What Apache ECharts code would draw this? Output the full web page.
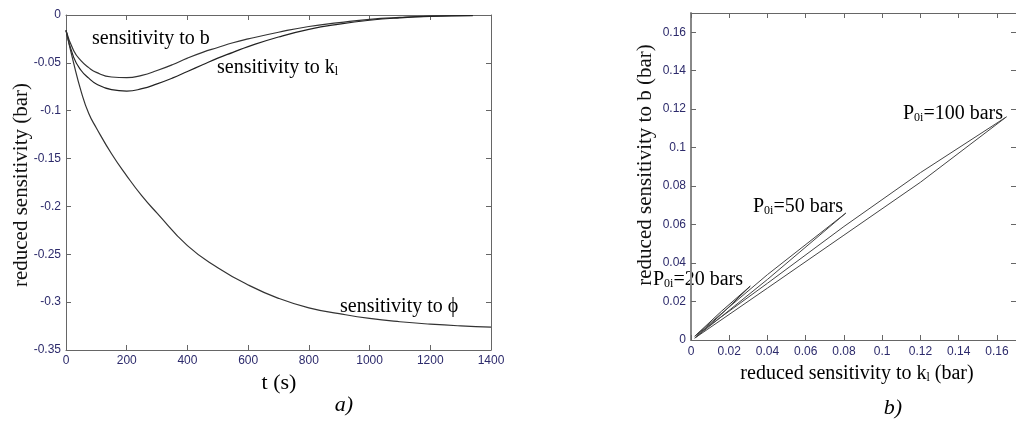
<!DOCTYPE html>
<html>
<head>
<meta charset="utf-8">
<script src="https://cdn.jsdelivr.net/npm/echarts@6/dist/echarts.min.js"></script>
<style>
  html, body { margin: 0; padding: 0; background: #fff; }
  #chart { width: 1016px; height: 424px; }
</style>
</head>
<body>
<div id="chart"></div>
<script>
// a) sensitivities vs time
const timeBK = [0, 25, 50, 75, 100, 150, 200, 250, 300, 350, 400, 450, 500, 550, 600, 700, 800, 900, 1000, 1100, 1200, 1340]
const sensB = [-0.016, -0.037, -0.048, -0.055, -0.060, -0.0648, -0.0655, -0.063, -0.058, -0.052, -0.045, -0.039, -0.034, -0.029, -0.025, -0.018, -0.012, -0.008, -0.0045, -0.0025, -0.0012, -0.0005]
const sensK = [-0.016, -0.044, -0.058, -0.066, -0.072, -0.078, -0.0795, -0.077, -0.072, -0.066, -0.059, -0.052, -0.045, -0.039, -0.033, -0.023, -0.015, -0.0095, -0.0055, -0.003, -0.0015, -0.0006]
const timePhi = [0, 25, 50, 75, 100, 150, 200, 250, 300, 400, 500, 600, 700, 800, 900, 1000, 1100, 1200, 1300, 1400]
const sensPhi = [-0.016, -0.050, -0.080, -0.103, -0.118, -0.145, -0.168, -0.189, -0.207, -0.241, -0.264, -0.282, -0.296, -0.306, -0.312, -0.317, -0.3205, -0.323, -0.3248, -0.326]

// b) sensitivity to b vs sensitivity to kl, one loop per initial pressure
const p20Kl = [0.002, 0.016, 0.031, 0.016, 0.002]
const p20B = [0.002, 0.0150, 0.028, 0.0135, 0.001]
const p50Kl = [0.002, 0.040, 0.081, 0.040, 0.002]
const p50B = [0.002, 0.034, 0.066, 0.0315, 0.001]
const p100Kl = [0.002, 0.04, 0.08, 0.12, 0.165, 0.12, 0.08, 0.04, 0.002]
const p100B = [0.002, 0.0295, 0.059, 0.087, 0.116, 0.082, 0.0545, 0.027, 0.001]

const pair = (xs, ys) => xs.map((x, i) => [x, ys[i]])

const SERIF = '"Liberation Serif", "Times New Roman", serif'
const SANS = '"Liberation Sans", Arial, sans-serif'
const tickColor = '#2c2a6b'
const boxColor = '#666'

const labelStyle = {
  color: tickColor,
  fontFamily: SANS,
  fontSize: 12,
  margin: 5,
  formatter: (v) => String(+v.toFixed(4))
}

const richText = {
  m: { fontFamily: SERIF, fontSize: 20, lineHeight: 24, verticalAlign: 'bottom', color: '#111' },
  s: { fontFamily: SERIF, fontSize: 12, lineHeight: 10, verticalAlign: 'bottom', color: '#111' }
}

const baseAxis = (extra) => ({
  type: 'value',
  axisLine: { show: true, onZero: false, lineStyle: { color: boxColor, width: 1 } },
  axisTick: { show: true, inside: true, length: 5, lineStyle: { color: boxColor } },
  splitLine: { show: false },
  ...extra
})

const mainAxis = (extra) => baseAxis({ axisLabel: labelStyle, ...extra })
const mirrorAxis = (extra) => baseAxis({ axisLabel: { show: false }, ...extra })

const text = (x, y, str, extra) => ({
  type: 'text',
  x: x,
  y: y,
  style: {
    text: str,
    rich: richText,
    align: 'left',
    verticalAlign: 'middle',
    ...extra
  }
})

const curve = (name, xs, ys, color) => ({
  name: name,
  type: 'line',
  xAxisIndex: 0,
  yAxisIndex: 0,
  data: pair(xs, ys),
  smooth: 0.5,
  symbol: 'none',
  lineStyle: { color: color, width: 1.2 }
})

const loop = (name, xs, ys, color) => ({
  name: name,
  type: 'line',
  xAxisIndex: 2,
  yAxisIndex: 2,
  data: pair(xs, ys),
  symbol: 'none',
  lineStyle: { color: color, width: 1 }
})

const chart = echarts.init(document.getElementById('chart'))

const option = {
  animation: false,
  backgroundColor: '#fff',
  grid: [
    { left: 66, top: 15, width: 425, height: 335 },
    { left: 691, top: 13, width: 327, height: 327 }
  ],
  xAxis: [
    mainAxis({ gridIndex: 0, min: 0, max: 1400, interval: 200 }),
    mirrorAxis({ gridIndex: 0, position: 'top', min: 0, max: 1400, interval: 200 }),
    mainAxis({ gridIndex: 1, min: 0, max: 0.17, interval: 0.02, axisLabel: { ...labelStyle, margin: 6, showMaxLabel: false } }),
    mirrorAxis({ gridIndex: 1, position: 'top', min: 0, max: 0.17, interval: 0.02 })
  ],
  yAxis: [
    mainAxis({ gridIndex: 0, min: -0.35, max: 0, interval: 0.05 }),
    mirrorAxis({ gridIndex: 0, position: 'right', min: -0.35, max: 0, interval: 0.05 }),
    mainAxis({
      gridIndex: 1, min: 0, max: 0.17, interval: 0.02,
      axisLine: { show: true, lineStyle: { color: '#888', width: 2 } },
      axisLabel: { ...labelStyle, showMaxLabel: false }
    }),
    mirrorAxis({ gridIndex: 1, position: 'right', min: 0, max: 0.17, interval: 0.02 })
  ],
  series: [
    curve('sensitivity to b', timeBK, sensB, '#333'),
    curve('sensitivity to kl', timeBK, sensK, '#222'),
    curve('sensitivity to phi', timePhi, sensPhi, '#333'),
    loop('P0i=20 bars', p20Kl, p20B, '#333'),
    loop('P0i=50 bars', p50Kl, p50B, '#444'),
    loop('P0i=100 bars', p100Kl, p100B, '#444')
  ],
  graphic: [
    // annotations in plot a)
    text(92, 37, '{m|sensitivity to b}'),
    text(217, 66, '{m|sensitivity to k}{s|l}'),
    text(340, 305, '{m|sensitivity to ϕ}'),
    // axis titles a)
    text(279, 381, '{m|t (s)}', { align: 'center', rich: { m: { ...richText.m, fontSize: 22, lineHeight: 26 } } }),
    {
      type: 'text',
      x: 21,
      y: 185,
      rotation: Math.PI / 2,
      style: { text: 'reduced sensitivity (bar)', font: '21px ' + SERIF, fill: '#111', align: 'center', verticalAlign: 'middle' }
    },
    text(344, 405, '{i|a)}', { align: 'center', rich: { i: { fontFamily: SERIF, fontStyle: 'italic', fontSize: 22, color: '#111' } } }),
    // annotations in plot b)
    text(903, 112, '{m|P}{s|0i}{m|=100 bars}'),
    text(753, 205, '{m|P}{s|0i}{m|=50 bars}'),
    text(653, 278, '{m|P}{s|0i}{m|=20 bars}'),
    // axis titles b)
    text(857, 372, '{m|reduced sensitivity to k}{s|l}{m| (bar)}', { align: 'center' }),
    {
      type: 'text',
      x: 645,
      y: 165,
      rotation: Math.PI / 2,
      style: { text: 'reduced sensitivity to b (bar)', font: '21px ' + SERIF, fill: '#111', align: 'center', verticalAlign: 'middle' }
    },
    text(893, 408, '{i|b)}', { align: 'center', rich: { i: { fontFamily: SERIF, fontStyle: 'italic', fontSize: 22, color: '#111' } } })
  ]
}

chart.setOption(option)
</script>
</body>
</html>
